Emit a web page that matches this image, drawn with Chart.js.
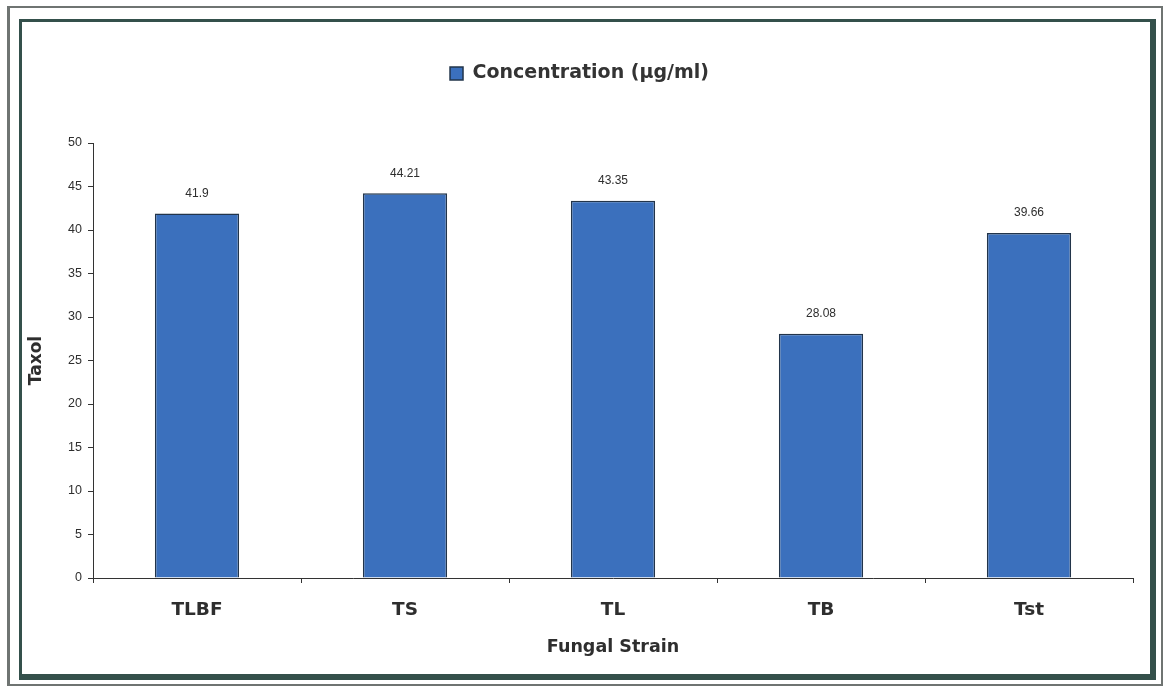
<!DOCTYPE html>
<html>
<head>
<meta charset="utf-8">
<title>Taxol production by fungal strain</title>
<script src="https://cdn.jsdelivr.net/npm/chart.js@4.4.1/dist/chart.umd.min.js"></script>
<style>
  html, body { margin: 0; padding: 0; background: #ffffff; }
  #wrap { position: relative; width: 1167px; height: 688px; overflow: hidden; }
  .frame-outer {
    position: absolute; left: 7px; top: 6px; width: 1151px; height: 676px;
    border: 2px solid #6f7472; border-left-width: 3px;
  }
  .frame-inner {
    position: absolute; left: 19px; top: 19px; width: 1128px; height: 652px;
    border-style: solid; border-color: #34504b;
    border-width: 3px 6px 6px 3px;
  }
  canvas { position: absolute; left: 0; top: 0; }
</style>
</head>
<body>
<div id="wrap">
  <div class="frame-outer"></div>
  <div class="frame-inner"></div>
  <canvas id="chart" width="1167" height="688"></canvas>
</div>
<script>
// Taxol yield per fungal strain
const strains = ['TLBF', 'TS', 'TL', 'TB', 'Tst'];
const concentration = [41.9, 44.21, 43.35, 28.08, 39.66];
const yTicks = [0, 5, 10, 15, 20, 25, 30, 35, 40, 45, 50];

const FONT = '"Liberation Sans", Arial, Helvetica, sans-serif';
const BOLD_FONT = '"DejaVu Sans", Verdana, sans-serif';
const INK = '#2e2e2e';

// Writes each bar's value just above it
const valueLabels = {
  id: 'valueLabels',
  afterDatasetsDraw(chart) {
    const ctx = chart.ctx;
    const meta = chart.getDatasetMeta(0);
    ctx.save();
    ctx.font = '12px ' + FONT;
    ctx.fillStyle = INK;
    ctx.textAlign = 'center';
    ctx.textBaseline = 'middle';
    meta.data.forEach((bar, i) => {
      ctx.fillText(String(concentration[i]), bar.x, bar.y - 20);
    });
    ctx.restore();
  }
};

// Extra room between the legend and the plot
const legendGap = {
  id: 'legendGap',
  beforeInit(chart) {
    const fit = chart.legend.fit;
    chart.legend.fit = function () {
      fit.call(this);
      this.height += 50;
    };
  }
};

new Chart(document.getElementById('chart'), {
  type: 'bar',
  data: {
    labels: strains,
    datasets: [{
      label: 'Concentration (µg/ml)',
      data: concentration,
      backgroundColor: '#3b70bd',
      borderColor: '#22344a',
      borderWidth: 1.5,
      barPercentage: 0.405,
      categoryPercentage: 1.0
    }]
  },
  options: {
    responsive: false,
    animation: false,
    devicePixelRatio: 1,
    layout: { padding: { left: 26, right: 34, top: 54, bottom: 30 } },
    plugins: {
      tooltip: { enabled: false },
      legend: {
        position: 'top',
        align: 'center',
        labels: {
          boxWidth: 13,
          boxHeight: 13,
          padding: 10,
          color: '#333333',
          font: { family: BOLD_FONT, size: 19, weight: 'bold' }
        }
      }
    },
    scales: {
      x: {
        offset: true,
        border: { display: true, color: '#333333', width: 1 },
        grid: {
          offset: true,
          drawOnChartArea: false,
          drawTicks: true,
          tickLength: 5,
          color: '#333333'
        },
        ticks: {
          padding: 16,
          color: INK,
          font: { family: BOLD_FONT, size: 18.5, weight: 'bold' }
        },
        title: {
          display: true,
          text: 'Fungal Strain',
          color: INK,
          padding: { top: 0, bottom: 0 },
          font: { family: BOLD_FONT, size: 17.5, weight: 'bold' }
        },
        afterFit(scale) { scale.height = 80; }
      },
      y: {
        min: 0,
        max: 50,
        border: { display: true, color: '#333333', width: 1 },
        grid: {
          drawOnChartArea: false,
          drawTicks: true,
          tickLength: 5,
          color: '#333333'
        },
        afterBuildTicks(scale) {
          scale.ticks = yTicks.map(v => ({ value: v }));
        },
        ticks: {
          padding: 6,
          color: INK,
          font: { family: FONT, size: 12.5 }
        },
        title: {
          display: true,
          text: 'Taxol',
          color: INK,
          padding: { top: 0, bottom: 0 },
          font: { family: BOLD_FONT, size: 17, weight: 'bold' }
        },
        afterFit(scale) { scale.width = 67; }
      }
    }
  },
  plugins: [legendGap, valueLabels]
});
</script>
</body>
</html>
